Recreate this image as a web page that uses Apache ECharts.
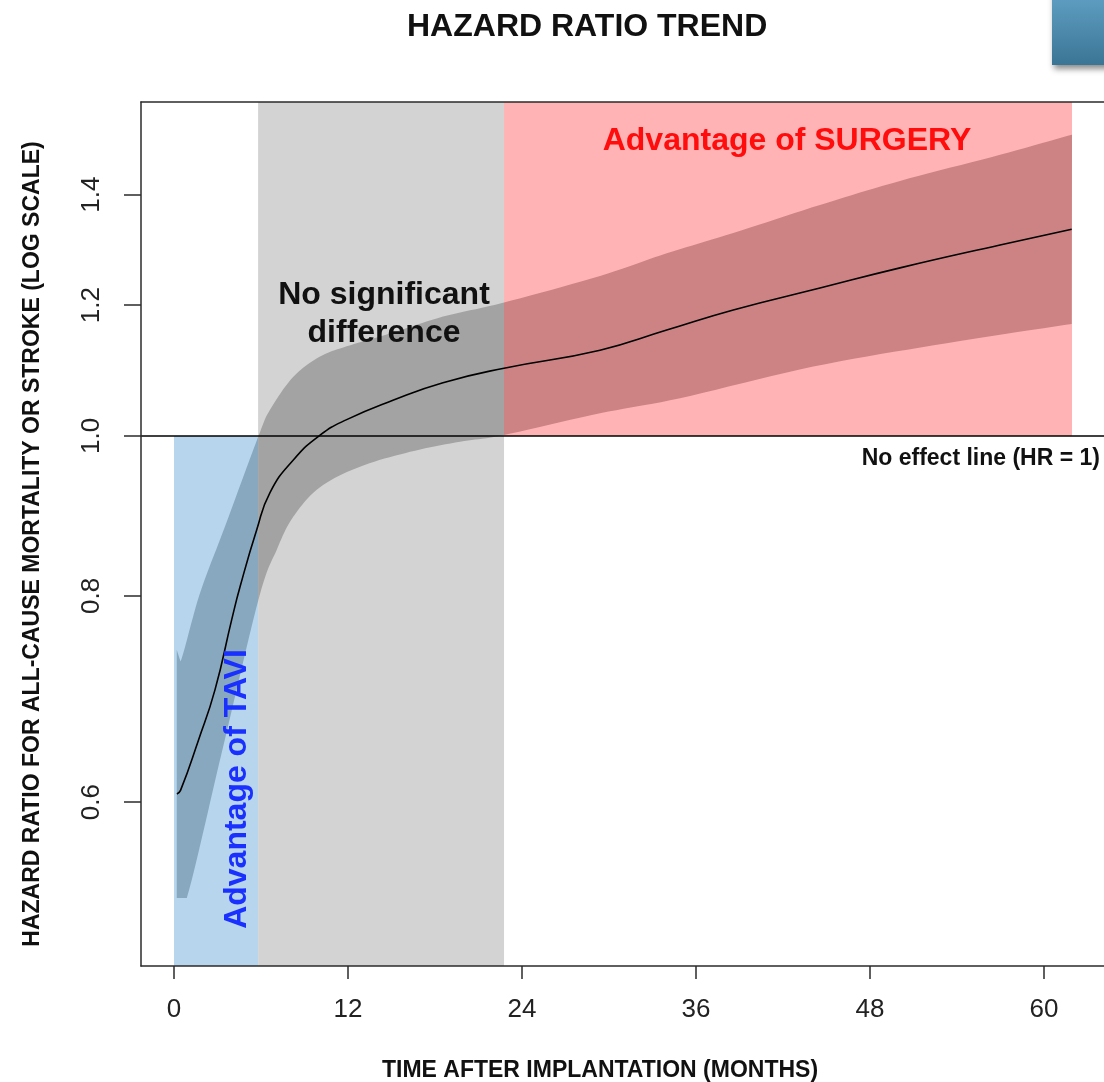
<!DOCTYPE html>
<html><head><meta charset="utf-8">
<script src="https://cdn.jsdelivr.net/npm/echarts@6/dist/echarts.min.js"></script>
<style>html,body{margin:0;padding:0;background:#fff}#c{width:1104px;height:1082px}</style>
</head><body><div id="c"></div>
<script>
// ---- data (months after implantation, hazard ratio) ----
const xTicks = [0, 12, 24, 36, 48, 60];
const yTicks = [0.6, 0.8, 1.0, 1.2, 1.4];

const curveMonths = [0.2, 0.45, 1.68, 2.83, 3.98, 4.55, 5.70, 6.62, 8.23, 10.07, 11.91, 15.1, 18.55, 22.76, 29.38, 33.98, 38.57, 44.55, 50.07, 56.97, 61.91];
const curveHR     = [0.607, 0.610, 0.654, 0.702, 0.774, 0.810, 0.877, 0.924, 0.967, 1.001, 1.023, 1.051, 1.077, 1.099, 1.127, 1.159, 1.192, 1.229, 1.264, 1.305, 1.334];

const upperMonths = [0.19, 0.45, 1.79, 3.51, 5.81, 6.62, 8.23, 10.07, 11.91, 15.12, 18.55, 22.69, 29.38, 33.98, 38.57, 44.55, 50.07, 56.97, 61.93];
const upperHR     = [0.742, 0.730, 0.803, 0.881, 0.999, 1.037, 1.086, 1.117, 1.133, 1.155, 1.181, 1.204, 1.250, 1.290, 1.327, 1.380, 1.427, 1.480, 1.522];

const lowerMonths = [0.19, 0.88, 3.31, 5.86, 7.08, 8.21, 10.07, 12.83, 16.28, 19.72, 22.69, 29.38, 34.9, 44.09, 53.29, 61.91];
const lowerHR     = [0.525, 0.525, 0.644, 0.798, 0.853, 0.893, 0.931, 0.958, 0.978, 0.992, 1.001, 1.032, 1.054, 1.1015, 1.138, 1.169];

// shaded regions (null = axis edge)
const regionNames  = ['Advantage of TAVI', 'No significant difference', 'Advantage of SURGERY'];
const regionStart  = [0, 5.8, 22.76];
const regionEnd    = [5.8, 22.76, 61.93];
const regionLowHR  = [null, null, 1.0];
const regionHighHR = [1.0, null, null];
const regionColors = ['#b7d5ed', '#d3d3d3', '#ffb3b5'];
const bandColors   = ['#88a8bf', '#a3a3a3', '#cd8384'];  // CI band as seen over each region

const noEffectHR = 1.0;
const xMin = -2.276, xMax = 66;
const yMinHR = 0.4775, yMaxHR = 1.593;

// ---- build ----
const L = Math.log;
const FONT = 'Liberation Sans, Arial, Helvetica, sans-serif';
const yMin = L(yMinHR), yMax = L(yMaxHR);
const curveData = curveMonths.map((m, i) => [m, L(curveHR[i])]);
const upperData = upperMonths.map((m, i) => [m, L(upperHR[i])]);
const lowerData = lowerMonths.map((m, i) => [m, L(lowerHR[i])]);
const regionData = regionStart.map((s, i) => [
  s, regionEnd[i],
  regionLowHR[i] == null ? yMin : L(regionLowHR[i]),
  regionHighHR[i] == null ? yMax : L(regionHighHR[i]),
  i
]);

// Catmull-Rom smoothing of pixel points (first segment kept straight)
function smoothPts(pts, seg) {
  const out = [], n = pts.length;
  for (let i = 0; i < n - 1; i++) {
    const p0 = pts[Math.max(i - 1, 0)], p1 = pts[i], p2 = pts[i + 1], p3 = pts[Math.min(i + 2, n - 1)];
    if (i === 0) { out.push(p1); continue; }
    for (let s = 0; s < seg; s++) {
      const t = s / seg, t2 = t * t, t3 = t2 * t;
      out.push([0, 1].map(k => 0.5 * ((2 * p1[k]) + (-p0[k] + p2[k]) * t +
        (2 * p0[k] - 5 * p1[k] + 4 * p2[k] - p3[k]) * t2 + (-p0[k] + 3 * p1[k] - 3 * p2[k] + p3[k]) * t3)));
    }
  }
  out.push(pts[n - 1]);
  return out;
}
// keep the part of a polyline between two pixel x positions
function clipX(pts, xa, xb) {
  const out = [];
  for (let i = 0; i < pts.length; i++) {
    const p = pts[i];
    if (i > 0) {
      const q = pts[i - 1];
      [xa, xb].forEach(xc => {
        if ((q[0] < xc && p[0] > xc) || (q[0] > xc && p[0] < xc)) {
          const t = (xc - q[0]) / (p[0] - q[0]);
          out.push([xc, q[1] + t * (p[1] - q[1])]);
        }
      });
    }
    if (p[0] >= xa && p[0] <= xb) out.push(p);
  }
  return out;
}

const chart = echarts.init(document.getElementById('c'), null, {renderer: 'canvas'});
const axisCol = '#2b2b2b';

chart.setOption({
  animation: false,
  backgroundColor: '#ffffff',
  title: {
    text: 'HAZARD RATIO TREND',
    left: 407, top: 11, padding: 0,
    textStyle: {fontFamily: FONT, fontSize: 32, fontWeight: 'bold', color: '#111'}
  },
  grid: {left: 141, top: 102, width: 990, height: 864, containLabel: false, outerBoundsMode: 'none', show: false},
  xAxis: [{
    type: 'value', min: xMin, max: xMax, position: 'bottom', z: 10,
    axisLine: {show: true, onZero: false, lineStyle: {color: axisCol, width: 1.5}},
    axisTick: {show: true, length: 13, inside: false, customValues: xTicks, lineStyle: {color: axisCol, width: 1.5}},
    axisLabel: {show: true, customValues: xTicks, margin: 31, fontSize: 26, fontFamily: FONT, color: '#222'},
    splitLine: {show: false},
    name: 'TIME AFTER IMPLANTATION (MONTHS)', nameLocation: 'middle', nameGap: 93,
    nameTextStyle: {fontFamily: FONT, fontSize: 23, fontWeight: 'bold', color: '#111', padding: [0, 72, 0, 0]}
  }, {
    type: 'value', min: xMin, max: xMax, position: 'top', z: 10,
    axisLine: {show: true, onZero: false, lineStyle: {color: axisCol, width: 1.5}},
    axisTick: {show: false}, axisLabel: {show: false}, splitLine: {show: false}
  }],
  yAxis: {
    type: 'value', min: yMin, max: yMax, z: 10,
    axisLine: {show: true, onZero: false, lineStyle: {color: axisCol, width: 1.5}},
    axisTick: {show: true, length: 17, inside: false, customValues: yTicks.map(L), lineStyle: {color: axisCol, width: 1.5}},
    axisLabel: {show: true, customValues: yTicks.map(L), rotate: 90, margin: 36, fontSize: 26, fontFamily: FONT, color: '#222',
      formatter: v => Math.exp(v).toFixed(1)},
    splitLine: {show: false},
    name: 'HAZARD RATIO FOR ALL-CAUSE MORTALITY OR STROKE (LOG SCALE)', nameLocation: 'middle', nameGap: 97, nameRotate: 90,
    nameTextStyle: {fontFamily: FONT, fontSize: 23, fontWeight: 'bold', color: '#111', padding: [0, 20, 0, 0]}
  },
  series: [{
    name: 'regions', type: 'custom', z: 1, silent: true,
    data: regionData,
    renderItem: (params, api) => {
      const p0 = api.coord([api.value(0), api.value(3)]);
      const p1 = api.coord([api.value(1), api.value(2)]);
      return {type: 'rect', shape: {x: p0[0], y: p0[1], width: p1[0] - p0[0], height: p1[1] - p0[1]},
        style: {fill: regionColors[api.value(4)]}};
    }
  }, {
    name: 'CI band', type: 'custom', z: 2, silent: true,
    data: [[0, 0]],
    renderItem: (params, api) => {
      const up = smoothPts(upperData.map(d => api.coord(d)), 10);
      const lo = smoothPts(lowerData.map(d => api.coord(d)), 10);
      const children = regionStart.map((s, i) => {
        const xa = api.coord([s, 0])[0], xb = api.coord([regionEnd[i], 0])[0];
        const pts = clipX(up, xa, xb).concat(clipX(lo, xa, xb).reverse());
        return {type: 'polygon', shape: {points: pts}, style: {fill: bandColors[i]}};
      });
      return {type: 'group', children};
    }
  }, {
    name: 'Hazard ratio', type: 'line', z: 4, silent: true,
    data: curveData, showSymbol: false, smooth: 0.5,
    lineStyle: {color: '#000', width: 1.6},
    markLine: {
      silent: true, symbol: 'none', animation: false,
      label: {show: false},
      lineStyle: {color: '#000', width: 1.6, type: 'solid'},
      data: [{yAxis: L(noEffectHR)}]
    }
  }],
  graphic: [
    {type: 'rect', z: 20, shape: {x: 1052, y: -10, width: 70, height: 75},
      style: {fill: new echarts.graphic.LinearGradient(0, 0, 0, 1, [{offset: 0, color: '#62a2c6'}, {offset: 1, color: '#3b7595'}]),
        shadowBlur: 6, shadowOffsetX: 2, shadowOffsetY: 4, shadowColor: 'rgba(0,0,0,0.45)'}},
    {type: 'text', z: 20, x: 787, y: 141,
      style: {text: 'Advantage of SURGERY', fill: '#ff0d0d', font: 'bold 32px ' + FONT, textAlign: 'center', textVerticalAlign: 'middle'}},
    {type: 'text', z: 20, x: 384, y: 314,
      style: {text: 'No significant\ndifference', fill: '#111', font: 'bold 32px ' + FONT, lineHeight: 38, textAlign: 'center', textVerticalAlign: 'middle'}},
    {type: 'text', z: 20, x: 237, y: 789, rotation: Math.PI / 2,
      style: {text: 'Advantage of TAVI', fill: '#1a30ff', font: 'bold 32px ' + FONT, textAlign: 'center', textVerticalAlign: 'middle'}},
    {type: 'text', z: 20, x: 1100, y: 459,
      style: {text: 'No effect line (HR = 1)', fill: '#111', font: 'bold 23px ' + FONT, textAlign: 'right', textVerticalAlign: 'middle'}}
  ]
});
</script></body></html>
